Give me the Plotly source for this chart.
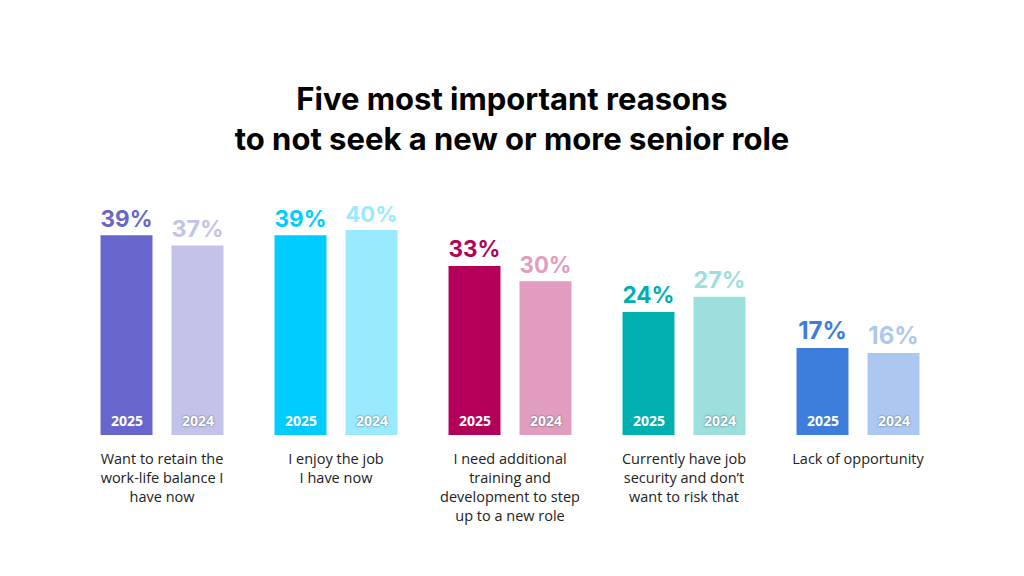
import plotly.graph_objects as go

# Datos
categories = [
    "Want to retain the<br>work-life balance I<br>have now",
    "I enjoy the job<br>I have now",
    "I need additional<br>training and<br>development to step<br>up to a new role",
    "Currently have job<br>security and don’t<br>want to risk that",
    "Lack of opportunity",
]
years = ["2025", "2024"]
values_2025 = [39, 39, 33, 24, 17]
values_2024 = [37, 40, 30, 27, 16]

colors_2025 = ["#6666CC", "#00CCFF", "#B30059", "#00AFAF", "#3D7DDB"]
colors_2024 = ["#C3C3EA", "#99E9FF", "#E09DC0", "#9CDFDC", "#ADC8F0"]

cat_idx = list(range(len(categories)))

fig = go.Figure()
for year, vals, cols in [(years[0], values_2025, colors_2025),
                         (years[1], values_2024, colors_2024)]:
    fig.add_trace(go.Bar(
        x=cat_idx,
        y=vals,
        name=year,
        marker=dict(color=cols, line=dict(width=0)),
        texttemplate="%{y}%",
        textposition="outside",
        textfont=dict(family="Inter, sans-serif", size=24, weight=700, color=cols),
        cliponaxis=False,
        hoverinfo="skip",
    ))

# Etiquetas de año dentro de las barras
slot_px = 35.5
for i in cat_idx:
    for j, year in enumerate(years):
        fig.add_annotation(
            x=i, y=0, xref="x", yref="y",
            text=f"<b>{year}</b>",
            showarrow=False,
            yanchor="bottom", yshift=3,
            xshift=-slot_px if j == 0 else slot_px,
            font=dict(family="Open Sans, sans-serif", size=14, color="white",
                      shadow="none" if j == 0 else "0px 0px 2px rgba(0,0,0,0.6)"),
        )

fig.update_layout(
    width=1024, height=576,
    margin=dict(l=67, r=87, t=181, b=149),
    barmode="group",
    bargap=0.184,
    bargroupgap=0.268,
    plot_bgcolor="white",
    paper_bgcolor="white",
    showlegend=False,
    title=dict(
        text="Five most important reasons<br>to not seek a new or more senior role",
        x=0.5 - 8 / 1024, xanchor="center", xref="container",
        y=1 - 102 / 576, yanchor="top", yref="container",
        font=dict(family="Inter, sans-serif", size=31, weight=700, color="#000000"),
    ),
)

fig.update_xaxes(
    tickmode="array", tickvals=cat_idx, ticktext=categories,
    range=[-0.5, len(categories) - 0.5],
    showgrid=False, showline=False, zeroline=False,
    ticks="outside", ticklen=11, tickcolor="white",
    tickfont=dict(family="Open Sans, sans-serif", size=14.5, color="#222222"),
)
fig.update_yaxes(range=[0, 48], visible=False, showgrid=False, zeroline=False)

fig.write_html("out.html")
